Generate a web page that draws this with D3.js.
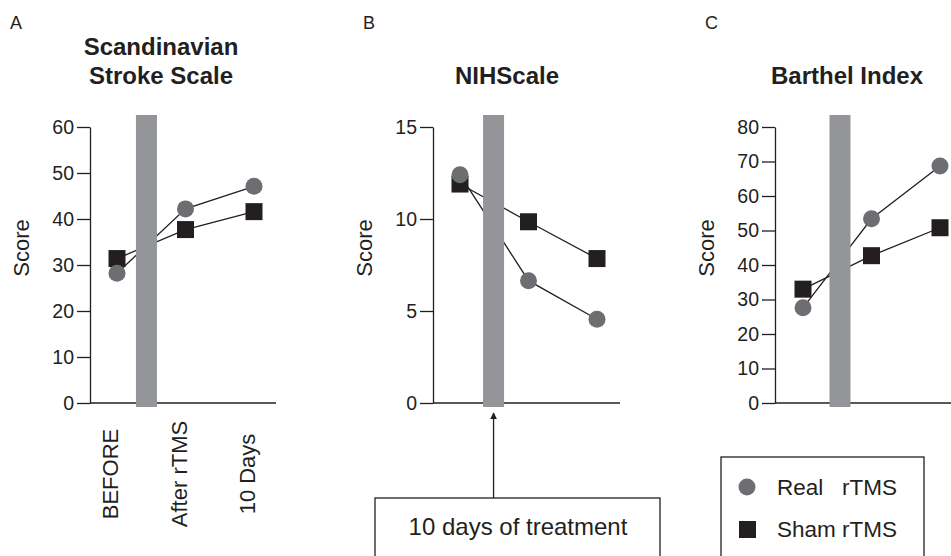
<!DOCTYPE html>
<html>
<head>
<meta charset="utf-8">
<script src="https://d3js.org/d3.v7.min.js"></script>
<style>
  body { margin: 0; background: #fff; }
  svg { display: block; font-family: "Liberation Sans", Arial, sans-serif; }
  .axis path, .axis line { stroke: #231f20; stroke-width: 1.3; }
  .axis text { font-size: 19.5px; fill: #231f20; }
</style>
</head>
<body>
<script>
// data
var timepoints = ["BEFORE", "After rTMS", "10 Days"];
var seriesNames = ["Real   rTMS", "Sham rTMS"];

var sssReal = [28.2, 42.2, 47.1];
var sssSham = [31.4, 37.7, 41.6];
var sssTicks = [0, 10, 20, 30, 40, 50, 60];

var nihReal = [12.4, 6.65, 4.55];
var nihSham = [11.9, 9.85, 7.85];
var nihTicks = [0, 5, 10, 15];

var barthelReal = [27.6, 53.4, 68.7];
var barthelSham = [33.0, 42.7, 50.8];
var barthelTicks = [0, 10, 20, 30, 40, 50, 60, 70, 80];

var panelLetters = ["A", "B", "C"];
var panelTitles = [["Scandinavian", "Stroke Scale"], ["NIHScale"], ["Barthel Index"]];
var noteText = "10 days of treatment";

// colours
var realColor = "#6d6e71",
    shamColor = "#231f20",
    barColor = "#939598",
    ink = "#231f20";

var W = 951, H = 556;
var yTop = 127, yBottom = 403;

var svg = d3.select("body").append("svg")
    .attr("width", W).attr("height", H);

// layout per panel: axis x, first point x, treatment bar position (in index units), axis end, title centre
var panels = [
  {axisX: 90, x0: 117, barAt: 0.43, xEnd: 276, titleX: 161, letterX: 10,
   real: sssReal, sham: sssSham, ticks: sssTicks, max: 60},
  {axisX: 433, x0: 460, barAt: 0.49, xEnd: 620, titleX: 507, letterX: 363,
   real: nihReal, sham: nihSham, ticks: nihTicks, max: 15},
  {axisX: 775, x0: 803, barAt: 0.54, xEnd: 951, titleX: 847, letterX: 705,
   real: barthelReal, sham: barthelSham, ticks: barthelTicks, max: 80}
];

panels.forEach(function(p, i) {
  var g = svg.append("g");

  var xScale = d3.scaleLinear().domain([0, 2]).range([p.x0, p.x0 + 137]);
  var yScale = d3.scaleLinear().domain([0, p.max]).range([yBottom, yTop]);

  // panel letter
  g.append("text")
    .attr("x", p.letterX).attr("y", 29)
    .style("font-size", "18px").style("fill", ink)
    .text(panelLetters[i]);

  // title (one or two lines)
  panelTitles[i].forEach(function(line, k, arr) {
    g.append("text")
      .attr("x", p.titleX)
      .attr("y", 84 - (arr.length - 1 - k) * 29)
      .attr("text-anchor", "middle")
      .style("font-size", "24px").style("font-weight", "bold").style("fill", ink)
      .text(line);
  });

  // y axis
  var yAxis = d3.axisLeft(yScale)
    .tickValues(p.ticks)
    .tickSize(13).tickSizeOuter(0).tickPadding(3);
  g.append("g")
    .attr("class", "axis")
    .attr("transform", "translate(" + p.axisX + ",0)")
    .call(yAxis);

  // x axis baseline
  g.append("line")
    .attr("x1", p.axisX).attr("x2", p.xEnd)
    .attr("y1", yBottom).attr("y2", yBottom)
    .attr("stroke", ink).attr("stroke-width", 1.3);

  // y label
  g.append("text")
    .attr("transform", "translate(" + (p.axisX - 61) + "," + 248 + ") rotate(-90)")
    .attr("text-anchor", "middle")
    .style("font-size", "22px").style("fill", ink)
    .text("Score");

  // connecting lines
  var line = d3.line()
    .x(function(d, j) { return xScale(j); })
    .y(function(d) { return yScale(d); });
  [p.real, p.sham].forEach(function(vals) {
    g.append("path")
      .attr("d", line(vals))
      .attr("fill", "none")
      .attr("stroke", ink).attr("stroke-width", 1.3);
  });

  // treatment bar sits over the lines
  var barX = xScale(p.barAt);
  g.append("rect")
    .attr("x", barX - 10.5).attr("width", 21)
    .attr("y", 115).attr("height", 292)
    .attr("fill", barColor);

  // markers
  g.selectAll(".sham")
    .data(p.sham).enter().append("rect")
    .attr("class", "sham")
    .attr("x", function(d, j) { return xScale(j) - 8.5; })
    .attr("y", function(d) { return yScale(d) - 8.5; })
    .attr("width", 17).attr("height", 17)
    .attr("fill", shamColor);
  g.selectAll(".real")
    .data(p.real).enter().append("circle")
    .attr("class", "real")
    .attr("cx", function(d, j) { return xScale(j); })
    .attr("cy", function(d) { return yScale(d); })
    .attr("r", 8.5)
    .attr("fill", realColor);

  // time point labels only under panel A
  if (i == 0) {
    timepoints.forEach(function(t, j) {
      var x = xScale(j) + 1;
      g.append("text")
        .attr("transform", "translate(" + x + ",474) rotate(-90)")
        .attr("text-anchor", "middle")
        .style("font-size", "22px").style("fill", ink)
        .text(t);
    });
  }

  // arrow + note under panel B
  if (i == 1) {
    var defs = svg.append("defs");
    defs.append("marker")
      .attr("id", "arrow")
      .attr("viewBox", "0 0 10 10")
      .attr("refX", 9).attr("refY", 5)
      .attr("markerWidth", 7).attr("markerHeight", 9)
      .attr("markerUnits", "userSpaceOnUse")
      .attr("orient", "auto")
      .append("path")
      .attr("d", "M0,0 L10,5 L0,10 Z")
      .attr("fill", ink);
    g.append("line")
      .attr("x1", barX).attr("x2", barX)
      .attr("y1", 498).attr("y2", 413)
      .attr("stroke", ink).attr("stroke-width", 1.3)
      .attr("marker-end", "url(#arrow)");
    g.append("rect")
      .attr("x", 375).attr("y", 498)
      .attr("width", 285).attr("height", 80)
      .attr("fill", "none").attr("stroke", ink).attr("stroke-width", 1.3);
    g.append("text")
      .attr("x", 518).attr("y", 535)
      .attr("text-anchor", "middle")
      .style("font-size", "24px").style("fill", ink)
      .text(noteText);
  }
});

// legend under panel C
var legend = svg.append("g").attr("transform", "translate(721,457)");
legend.append("rect")
  .attr("width", 203).attr("height", 120)
  .attr("fill", "none").attr("stroke", ink).attr("stroke-width", 1.3);
var legendRows = legend.selectAll(".row")
  .data(seriesNames).enter().append("g")
  .attr("class", "row")
  .attr("transform", function(d, i) { return "translate(0," + (i * 42) + ")"; });
legendRows.each(function(d, i) {
  var row = d3.select(this);
  if (i == 0) {
    row.append("circle").attr("cx", 26).attr("cy", 30).attr("r", 8.5).attr("fill", realColor);
  } else {
    row.append("rect").attr("x", 18).attr("y", 22).attr("width", 17).attr("height", 17).attr("fill", shamColor);
  }
  row.append("text")
    .attr("x", 56).attr("y", 38)
    .style("font-size", "22.5px").style("fill", ink)
    .style("white-space", "pre")
    .text(d);
});
</script>
</body>
</html>
